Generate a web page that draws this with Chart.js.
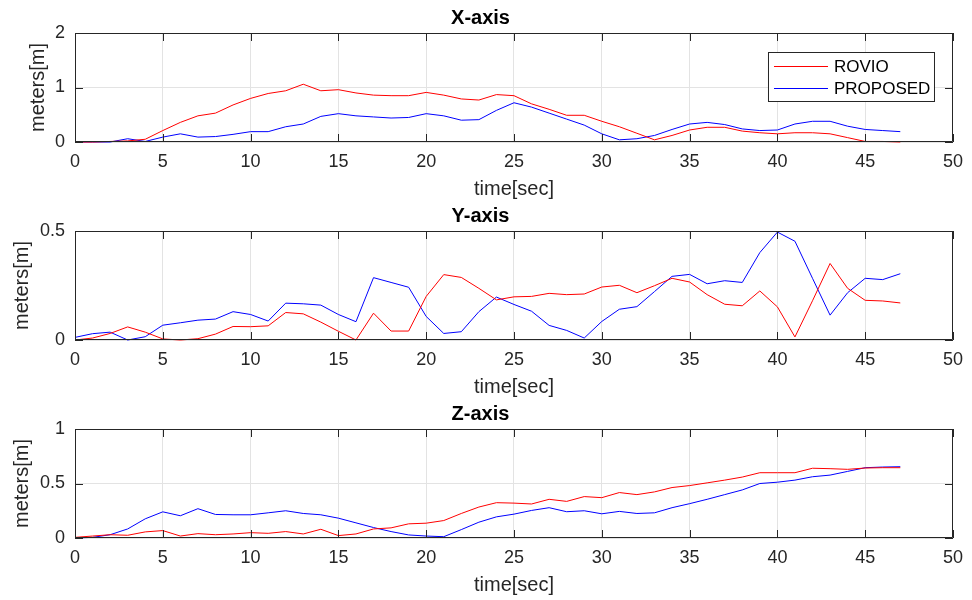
<!DOCTYPE html>
<html>
<head>
  <meta charset="UTF-8">
  <title>ROVIO vs PROPOSED - X/Y/Z axis error</title>
  <script src="https://cdn.jsdelivr.net/npm/chart.js"></script>
  <style>
    body { margin: 0; background: #fff; }
    #wrap { position: relative; width: 972px; height: 600px; overflow: hidden; }
    canvas { position: absolute; left: 0; }
  </style>
</head>
<body>
<div id="wrap">
  <canvas id="chartX" width="972" height="202" style="top:0px"></canvas>
  <canvas id="chartY" width="972" height="202" style="top:198px"></canvas>
  <canvas id="chartZ" width="972" height="202" style="top:396px"></canvas>
</div>

<script>
  // time samples (sec)
  const time = [0,1,2,3,4,5,6,7,8,9,10,11,12,13,14,15,16,17,18,19,20,21,22,23,
                24,25,26,27,28,29,30,31,32,33,34,35,36,37,38,39,40,41,42,43,44,45,46,47];

  // X-axis error (m)
  const rovioX = [0,0,0.01,0.02,0.05,0.21,0.36,0.48,0.53,0.68,0.80,0.89,0.94,1.06,0.94,0.96,
                  0.90,0.86,0.85,0.85,0.91,0.86,0.79,0.77,0.87,0.85,0.70,0.60,0.49,0.49,0.38,0.28,
                  0.16,0.04,0.12,0.22,0.27,0.27,0.20,0.17,0.15,0.17,0.17,0.15,0.08,0.01,0.01,0.0];
  const proposedX = [0,0,0,0.06,0.01,0.09,0.15,0.09,0.10,0.14,0.19,0.19,0.28,0.33,0.47,0.52,
                     0.48,0.46,0.44,0.45,0.52,0.48,0.40,0.41,0.58,0.72,0.64,0.53,0.42,0.31,0.15,0.04,
                     0.06,0.12,0.23,0.33,0.36,0.32,0.24,0.21,0.22,0.33,0.38,0.38,0.29,0.23,0.21,0.19];

  // Y-axis error (m)
  const rovioY = [0,0.009,0.03,0.06,0.036,0.005,0,0.006,0.027,0.062,0.061,0.065,0.126,0.12,0.082,0.04,
                  0,0.123,0.041,0.041,0.2,0.30,0.287,0.237,0.184,0.198,0.2,0.214,0.208,0.211,0.243,0.251,
                  0.217,0.249,0.283,0.266,0.208,0.164,0.157,0.225,0.152,0.014,0.18,0.351,0.237,0.182,0.179,0.17];
  const proposedY = [0.012,0.029,0.036,0,0.015,0.068,0.079,0.091,0.096,0.13,0.117,0.087,0.169,0.166,0.16,0.117,
                     0.084,0.286,0.264,0.242,0.108,0.03,0.038,0.13,0.197,0.163,0.132,0.067,0.044,0.009,0.085,0.141,
                     0.153,0.222,0.292,0.301,0.258,0.272,0.264,0.401,0.495,0.453,0.283,0.114,0.217,0.283,0.277,0.304];

  // Z-axis error (m)
  const rovioZ = [0.006,0.018,0.03,0.025,0.056,0.068,0.018,0.04,0.03,0.037,0.049,0.043,0.059,0.037,0.08,0.022,
                  0.037,0.083,0.093,0.13,0.136,0.16,0.225,0.284,0.324,0.32,0.312,0.355,0.336,0.38,0.37,0.417,
                  0.398,0.423,0.463,0.481,0.506,0.531,0.559,0.599,0.599,0.599,0.64,0.636,0.63,0.642,0.645,0.645];
  const proposedZ = [0,0.006,0.03,0.083,0.176,0.24,0.204,0.269,0.216,0.213,0.213,0.231,0.25,0.225,0.213,0.182,
                     0.139,0.096,0.059,0.028,0.018,0.012,0.077,0.145,0.194,0.219,0.253,0.278,0.241,0.25,0.222,0.244,
                     0.225,0.231,0.278,0.315,0.355,0.398,0.441,0.5,0.512,0.531,0.562,0.577,0.611,0.645,0.651,0.654];

  const seriesNames = ['ROVIO', 'PROPOSED'];
  const xTicks = { min: 0, max: 50, step: 5 };

  const FONT = '"Liberation Sans", Arial, Helvetica, sans-serif';
  const AXIS_COLOR = '#262626';

  // box around the plot + inside tick marks (MATLAB style)
  const framePlugin = {
    id: 'frame',
    afterDatasetsDraw(chart) {
      const { ctx, chartArea: a, scales: { x, y } } = chart;
      const len = 8;
      ctx.save();
      ctx.strokeStyle = AXIS_COLOR;
      ctx.lineWidth = 1;
      ctx.beginPath();
      ctx.rect(Math.round(a.left) + 0.5, Math.round(a.top) + 0.5,
               Math.round(a.width) - 1, Math.round(a.height) - 1);
      x.ticks.forEach(t => {
        const px = Math.round(x.getPixelForValue(t.value)) + 0.5;
        ctx.moveTo(px, a.bottom); ctx.lineTo(px, a.bottom - len);
        ctx.moveTo(px, a.top); ctx.lineTo(px, a.top + len);
      });
      y.ticks.forEach(t => {
        const py = Math.round(y.getPixelForValue(t.value)) + 0.5;
        ctx.moveTo(a.left, py); ctx.lineTo(a.left + len, py);
        ctx.moveTo(a.right, py); ctx.lineTo(a.right - len, py);
      });
      ctx.stroke();
      ctx.restore();
    }
  };

  // legend box inside the plot, upper right
  const boxLegendPlugin = {
    id: 'boxLegend',
    afterDraw(chart, args, opts) {
      if (!opts.show) return;
      const { ctx, chartArea: a } = chart;
      const w = 166, h = 49;
      const left = a.right - 185, top = a.top + 19;
      ctx.save();
      ctx.fillStyle = '#fff';
      ctx.fillRect(left, top, w, h);
      ctx.strokeStyle = AXIS_COLOR;
      ctx.lineWidth = 1;
      ctx.strokeRect(left + 0.5, top + 0.5, w, h);
      ctx.font = '17px ' + FONT;
      ctx.textBaseline = 'middle';
      chart.data.datasets.forEach((ds, i) => {
        const yy = top + 14 + i * 22;
        ctx.strokeStyle = ds.borderColor;
        ctx.beginPath();
        ctx.moveTo(left + 6, yy + 0.5);
        ctx.lineTo(left + 60, yy + 0.5);
        ctx.stroke();
        ctx.fillStyle = '#000';
        ctx.fillText(ds.label, left + 66, yy + 1);
      });
      ctx.restore();
    }
  };

  // yTitleGap: distance from the left edge to the y label (MATLAB moves it with the tick label width)
  function makeChart(id, title, red, blue, yMax, yStep, yTitleGap, showLegend) {
    const ctx = document.getElementById(id).getContext('2d');
    return new Chart(ctx, {
      type: 'line',
      data: {
        datasets: [
          {
            label: seriesNames[0],
            data: time.map((t, i) => ({ x: t, y: red[i] })),
            borderColor: '#ff0000',
            borderWidth: 1,
            pointRadius: 0,
            clip: 2,
            fill: false
          },
          {
            label: seriesNames[1],
            data: time.map((t, i) => ({ x: t, y: blue[i] })),
            borderColor: '#0000ff',
            borderWidth: 1,
            pointRadius: 0,
            clip: 2,
            fill: false
          }
        ]
      },
      options: {
        responsive: false,
        animation: false,
        layout: { padding: { top: 2, right: 11, bottom: 1, left: 0 } },
        plugins: {
          legend: { display: false },
          tooltip: { enabled: false },
          title: {
            display: true,
            text: title,
            color: '#000',
            font: { family: FONT, size: 20, weight: 'bold' },
            padding: { top: 4, bottom: 3 }
          },
          boxLegend: { show: showLegend }
        },
        scales: {
          x: {
            type: 'linear',
            min: xTicks.min,
            max: xTicks.max,
            grid: { color: '#e3e3e3', drawTicks: false },
            border: { display: false },
            ticks: {
              stepSize: xTicks.step,
              padding: 9,
              color: AXIS_COLOR,
              font: { family: FONT, size: 18 },
              maxRotation: 0
            },
            title: {
              display: true,
              text: 'time[sec]',
              color: AXIS_COLOR,
              font: { family: FONT, size: 20 },
              padding: { top: 0, bottom: 0 }
            },
            afterFit(scale) { scale.height = 59; }
          },
          y: {
            min: 0,
            max: yMax,
            grid: { color: '#e3e3e3', drawTicks: false },
            border: { display: false },
            ticks: {
              stepSize: yStep,
              padding: 10,
              color: AXIS_COLOR,
              font: { family: FONT, size: 18 },
              callback: v => String(+v.toFixed(2))
            },
            title: {
              display: true,
              text: 'meters[m]',
              color: AXIS_COLOR,
              font: { family: FONT, size: 20 },
              padding: { top: yTitleGap, bottom: 0 }
            },
            afterFit(scale) { scale.width = 75; }
          }
        }
      },
      plugins: [framePlugin, boxLegendPlugin]
    });
  }

  makeChart('chartX', 'X-axis', rovioX, proposedX, 2, 1, 26, true);
  makeChart('chartY', 'Y-axis', rovioY, proposedY, 0.5, 0.5, 10, false);
  makeChart('chartZ', 'Z-axis', rovioZ, proposedZ, 1, 0.5, 10, false);
</script>
</body>
</html>
